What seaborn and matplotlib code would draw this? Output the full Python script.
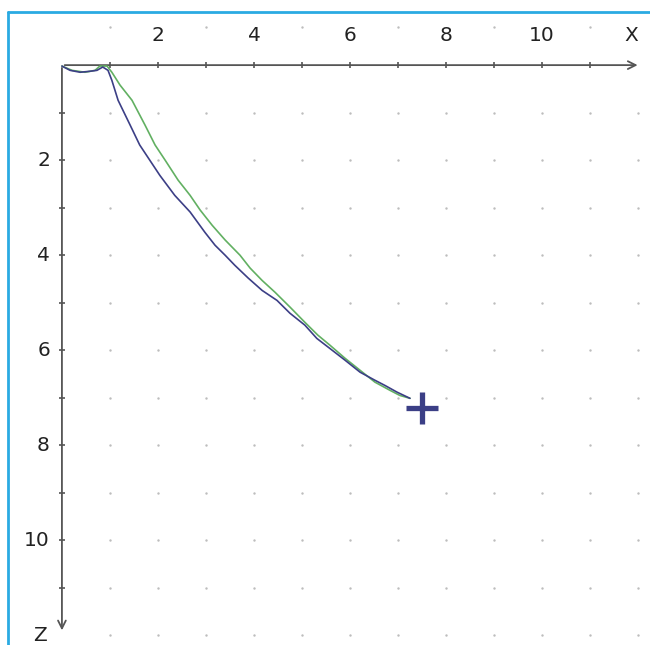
import matplotlib
matplotlib.use("Agg")
import matplotlib.pyplot as plt
import numpy as np
import pandas as pd
import seaborn as sns
from matplotlib.lines import Line2D

# path traces (x, z)
BLUE_X = [0.0, 0.17, 0.38, 0.58, 0.73, 0.85, 0.96, 1.04, 1.17, 1.42, 1.62, 1.83,
          2.04, 2.35, 2.67, 2.98, 3.19, 3.40, 3.60, 3.88, 4.17, 4.48, 4.75,
          5.06, 5.31, 5.58, 5.90, 6.21, 6.52, 6.73, 6.98, 7.25]
BLUE_Z = [0.02, 0.11, 0.15, 0.13, 0.11, 0.04, 0.11, 0.32, 0.74, 1.26, 1.68, 2.00,
          2.32, 2.74, 3.09, 3.52, 3.79, 4.00, 4.21, 4.48, 4.74, 4.95, 5.22,
          5.47, 5.75, 5.96, 6.21, 6.46, 6.63, 6.74, 6.88, 7.01]
GREEN_X = [0.0, 0.21, 0.48, 0.69, 0.79, 0.94, 1.04, 1.21, 1.46, 1.73, 1.94, 2.15,
           2.42, 2.67, 2.88, 3.13, 3.40, 3.71, 3.92, 4.17, 4.44, 4.75, 5.06,
           5.33, 5.58, 5.90, 6.21, 6.52, 6.83, 7.04, 7.25]
GREEN_Z = [0.02, 0.11, 0.15, 0.11, 0.02, 0.02, 0.15, 0.42, 0.74, 1.26, 1.68, 2.00,
           2.42, 2.74, 3.05, 3.37, 3.68, 4.00, 4.27, 4.53, 4.78, 5.09, 5.41,
           5.68, 5.89, 6.17, 6.42, 6.67, 6.84, 6.95, 7.01]
TARGET_X = [7.5]
TARGET_Z = [7.22]

X_TICKS = [2, 4, 6, 8, 10]
Z_TICKS = [2, 4, 6, 8, 10]

sns.set_theme(style="white")
plt.rcParams['font.family'] = ['DejaVu Sans']

fig = plt.figure(figsize=(6.5, 6.45), dpi=100)
ax = fig.add_axes([0, 0, 1, 1])
ax.set_xlim(-1.29, 12.25)
ax.set_ylim(12.2, -1.37)
ax.axis("off")

# dotted background grid
gx, gz = np.meshgrid(np.arange(1, 13), np.arange(1, 13))
ax.scatter(gx.ravel(), gz.ravel(), s=3, color="#bdbdbd", linewidths=0, zorder=1)
ax.scatter(np.arange(1, 13, 2), np.full(6, -0.8), s=3, color="#bdbdbd",
           linewidths=0, zorder=1)

# axes with arrows
ax.annotate("", xy=(12.05, 0), xytext=(0, 0),
            arrowprops=dict(arrowstyle="->", color="#555555", lw=1.3,
                            mutation_scale=14))
ax.annotate("", xy=(0, 11.95), xytext=(0, 0),
            arrowprops=dict(arrowstyle="->", color="#555555", lw=1.3,
                            mutation_scale=14))
ax.scatter(np.arange(1, 12), np.zeros(11), marker="|", s=25, color="#555555",
           linewidths=1.2, zorder=2)
ax.scatter(np.zeros(11), np.arange(1, 12), marker="_", s=25, color="#555555",
           linewidths=1.2, zorder=2)

for t in X_TICKS:
    ax.text(t, -0.63, str(t), ha="center", va="center", fontsize=14.5,
            color="#222222")
ax.text(11.87, -0.63, "X", ha="center", va="center", fontsize=14.5,
        color="#222222")
for t in Z_TICKS:
    ax.text(-0.25, t, str(t), ha="right", va="center", fontsize=14.5,
            color="#222222")
ax.text(-0.45, 12.0, "Z", ha="center", va="center", fontsize=14.5,
        color="#222222")

df = pd.concat([
    pd.DataFrame({"x": GREEN_X, "z": GREEN_Z, "run": "green"}),
    pd.DataFrame({"x": BLUE_X, "z": BLUE_Z, "run": "blue"}),
])
sns.lineplot(data=df, x="x", y="z", hue="run", units="run", estimator=None,
             sort=False, palette={"green": "#62b062", "blue": "#3c3f86"},
             linewidth=1.2, legend=False, ax=ax, zorder=3)

ax.scatter(TARGET_X, TARGET_Z, marker="+", s=560, color="#3b3f86",
           linewidths=3.8, zorder=4)
ax.set_xlim(-1.29, 12.25)
ax.set_ylim(12.2, -1.37)

# light blue frame
fig.lines.append(Line2D([8 / 650, 8 / 650], [0, 1 - 12 / 645],
                        transform=fig.transFigure, color="#2aaae2", lw=2))
fig.lines.append(Line2D([8 / 650, 1], [1 - 12 / 645, 1 - 12 / 645],
                        transform=fig.transFigure, color="#2aaae2", lw=2))

fig.savefig("out.png", dpi=100)
